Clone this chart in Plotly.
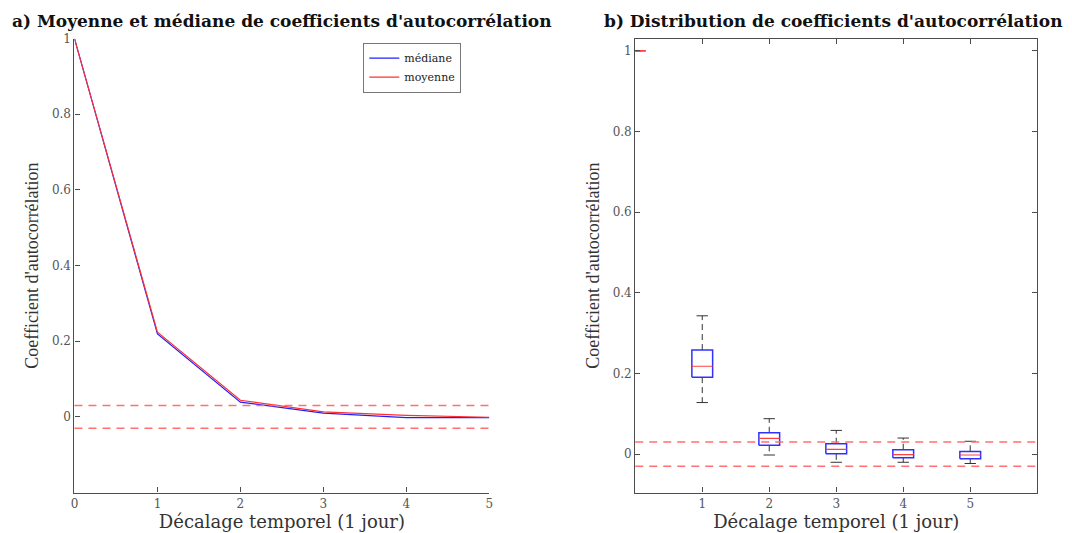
import plotly.graph_objects as go

# ---------------- data ----------------
lags = [0, 1, 2, 3, 4, 5]
median_acf = [1.0, 0.219, 0.039, 0.010, -0.002, -0.002]
mean_acf = [1.0, 0.224, 0.044, 0.013, 0.004, -0.001]
conf_level = 0.03

box_pos = [0, 1, 2, 3, 4, 5]
box_upper = [1.0, 0.343, 0.088, 0.059, 0.040, 0.032]
box_q3 = [1.0, 0.258, 0.053, 0.026, 0.011, 0.007]
box_med = [1.0, 0.218, 0.039, 0.012, -0.001, -0.002]
box_q1 = [1.0, 0.191, 0.022, 0.001, -0.009, -0.011]
box_lower = [1.0, 0.128, -0.002, -0.020, -0.020, -0.023]

xticks_a = [0, 1, 2, 3, 4, 5]
xticks_b = [0, 1, 2, 3, 4, 5, 6]
xticklabels_b = ["", "1", "2", "3", "4", "5", ""]
yticks = [0, 0.2, 0.4, 0.6, 0.8, 1]
yticklabels = ["0", "0.2", "0.4", "0.6", "0.8", "1"]

title_a = "a) Moyenne et médiane de coefficients d'autocorrélation"
title_b = "b) Distribution de coefficients d'autocorrélation"
xlabel = "Décalage temporel (1 jour)"
ylabel = "Coefficient d'autocorrélation"

# --------------- styling ---------------
SERIF = "Liberation Serif"
WIDE_SERIF = "DejaVu Serif"
AX_COL = "#4d4d4d"
BOX_HW = 0.155
CAP_HW = 0.085

fig = go.Figure()

# panel a lines
fig.add_trace(go.Scatter(x=lags, y=median_acf, mode="lines", name="médiane",
                         line=dict(color="#2020ff", width=1.2), xaxis="x", yaxis="y"))
fig.add_trace(go.Scatter(x=lags, y=mean_acf, mode="lines", name="moyenne",
                         line=dict(color="#ff3030", width=1.2), xaxis="x", yaxis="y"))

# panel b boxes built from the stats
bx, by, wx, wy, cx, cy, mx, my = [], [], [], [], [], [], [], []
for p, lo, q1, md, q3, up in zip(box_pos, box_lower, box_q1, box_med, box_q3, box_upper):
    bx += [p - BOX_HW, p + BOX_HW, p + BOX_HW, p - BOX_HW, p - BOX_HW, None]
    by += [q1, q1, q3, q3, q1, None]
    wx += [p, p, None, p, p, None]
    wy += [q3, up, None, q1, lo, None]
    cx += [p - CAP_HW, p + CAP_HW, None, p - CAP_HW, p + CAP_HW, None]
    cy += [up, up, None, lo, lo, None]
    mx += [p - BOX_HW, p + BOX_HW, None]
    my += [md, md, None]

fig.add_trace(go.Scatter(x=wx, y=wy, mode="lines", showlegend=False,
                         line=dict(color="#333333", width=1, dash="6px,4px"), xaxis="x2", yaxis="y2"))
fig.add_trace(go.Scatter(x=cx, y=cy, mode="lines", showlegend=False,
                         line=dict(color="#333333", width=1), xaxis="x2", yaxis="y2"))
fig.add_trace(go.Scatter(x=bx, y=by, mode="lines", showlegend=False,
                         line=dict(color="#3030ff", width=1.5), xaxis="x2", yaxis="y2"))
fig.add_trace(go.Scatter(x=mx, y=my, mode="lines", showlegend=False,
                         line=dict(color="#ff4040", width=1.2), xaxis="x2", yaxis="y2"))

# confidence dashed lines
for xr, yr in (("x domain", "y"), ("x2 domain", "y2")):
    for lvl in (conf_level, -conf_level):
        fig.add_shape(type="line", xref=xr, yref=yr, x0=0, x1=1, y0=lvl, y1=lvl,
                      line=dict(color="#ff7070", width=1.5, dash="8px,6px"), layer="above")

tickfont = dict(family=WIDE_SERIF, size=12, color="#555555")
xtitlefont = dict(family=WIDE_SERIF, size=18, color="#333333")
ytitlefont = dict(family=SERIF, size=18, color="#333333")

common_axis = dict(showgrid=False, zeroline=False, showline=True, linecolor=AX_COL, linewidth=1.2,
                   ticks="inside", ticklen=5, tickcolor=AX_COL, tickwidth=1, tickfont=tickfont)

fig.update_layout(
    width=1072, height=533,
    margin=dict(l=0, r=0, t=0, b=0),
    paper_bgcolor="white", plot_bgcolor="white",
    xaxis=dict(domain=[71/1072, 489/1072], range=[0, 5], tickvals=xticks_a,
               title=dict(text=xlabel, font=xtitlefont, standoff=1), anchor="y", **common_axis),
    yaxis=dict(domain=[1 - 492/533, 1 - 32/533], range=[-0.2, 1], tickvals=yticks, ticktext=yticklabels,
               title=dict(text=ylabel, font=ytitlefont, standoff=8), anchor="x", **common_axis),
    xaxis2=dict(domain=[636/1072, 1041/1072], range=[0, 6], tickvals=xticks_b, ticktext=xticklabels_b,
                mirror="ticks", title=dict(text=xlabel, font=xtitlefont, standoff=1), anchor="y2", **common_axis),
    yaxis2=dict(domain=[1 - 492/533, 1 - 32/533], range=[-0.095, 1.03], tickvals=yticks, ticktext=yticklabels,
                mirror="ticks", title=dict(text=ylabel, font=ytitlefont, standoff=8), anchor="x2", **common_axis),
    legend=dict(x=362/1072, y=1 - 36/533, xanchor="left", yanchor="top",
                bgcolor="white", bordercolor="#777777", borderwidth=1,
                font=dict(family=WIDE_SERIF, size=11, color="#222222"),
                tracegroupgap=0, itemwidth=30),
    showlegend=True,
    annotations=[
        dict(text="<b>" + title_a + "</b>", xref="paper", yref="paper", x=7/1072, y=1 - 14/533,
             xanchor="left", yanchor="middle", showarrow=False, borderpad=0,
             font=dict(family=WIDE_SERIF, size=17, color="#111111")),
        dict(text="<b>" + title_b + "</b>", xref="paper", yref="paper", x=604/1072, y=1 - 14/533,
             xanchor="left", yanchor="middle", showarrow=False, borderpad=0,
             font=dict(family=WIDE_SERIF, size=17, color="#111111")),
    ],
)

fig.write_html("out.html", config={"displayModeBar": False},
               post_script="document.body.style.margin='0px';")
